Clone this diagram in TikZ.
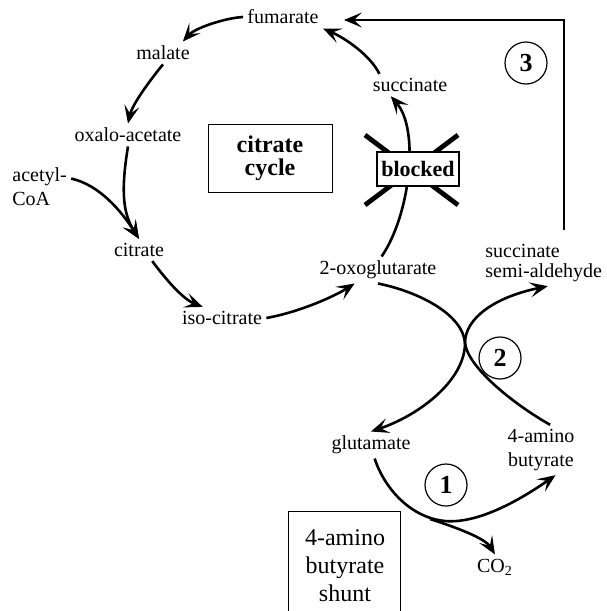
\documentclass[tikz,border=0pt]{standalone}
\usepackage{fontspec}
\setmainfont{Liberation Serif}
\usetikzlibrary{arrows.meta,positioning}

\tikzset{
  metab/.style={inner sep=2pt, font=\fontsize{10pt}{12pt}\selectfont},
  arr/.style={line width=1.3pt, -{Stealth[length=9pt,width=7.5pt,inset=4pt]}},
  enzyme/.style={draw, circle, line width=0.6pt, minimum size=21pt, inner sep=0pt,
    font=\fontsize{13pt}{13pt}\selectfont\bfseries},
  textbox/.style={draw, line width=0.5pt, align=center}
}

\begin{document}
\begin{tikzpicture}[x=0.5pt,y=-0.5pt]
\path[use as bounding box, clip] (0,0) rectangle (606,611);

% Metabolites of the cycle
\node[metab] (fum) at (283,17) {fumarate};
\node[metab] (mal) at (163,53) {malate};
\node[metab] (oxa) at (128,135) {oxalo-acetate};
\node[metab, align=left, anchor=west] (acc) at (8,187) {acetyl-\\CoA};
\node[metab] (cit) at (139,250) {citrate};
\node[metab] (iso) at (222,318) {iso-citrate};
\node[metab] (oxo) at (378,270) {2-oxoglutarate};
\node[metab] (suc) at (410,85) {succinate};

% Shunt
\node[metab, align=left, anchor=west] (ssa) at (481,263) {succinate\\[-2pt]semi-aldehyde};
\node[metab] (glu) at (371,445) {glutamate};
\node[metab, align=center] (gab) at (541,450) {4-amino\\butyrate};
\node[metab] (co2) at (495,567) {CO\textsubscript{2}};

% Titles
\node[textbox, minimum width=62pt, minimum height=34pt,
  font=\fontsize{12pt}{11.5pt}\selectfont\bfseries] (cycle) at (270,158) {citrate\\cycle};
\node[align=center, font=\fontsize{12pt}{14pt}\selectfont] (shunt) at (345,566) {4-amino\\butyrate\\shunt};
\draw[line width=0.5pt] (288,640) |- (400,511) -- (400,640);

% Enzymes
\node[enzyme] (n1) at (446,485) {1};
\node[enzyme] (n2) at (500,358) {2};
\node[enzyme] (n3) at (526,63) {3};

% Blocked step
\draw[arr] (oxo.75) .. controls (410,215) and (420,130) .. (suc.-150);
\draw[line width=2.4pt] (365,135) -- (458,205);
\draw[line width=2.4pt] (458,135) -- (365,205);
\node[draw, fill=white, line width=0.9pt, inner sep=2pt, minimum width=40pt, minimum height=17pt,
  font=\fontsize{11pt}{11pt}\selectfont\bfseries] (blocked) at (418,169) {blocked};

% Cycle arrows
\draw[arr] (fum.west) .. controls (225,18) and (195,28) .. (mal.30);
\draw[arr] (mal.south) .. controls (150,80) and (132,105) .. (oxa.north);
\draw[arr] (oxa.south) .. controls (120,195) and (124,215) .. (cit.north);
\draw[arr] (acc.15) .. controls (100,185) and (122,212) .. (cit.north);
\draw[arr] (cit.-40) .. controls (170,285) and (185,300) .. (iso.150);
\draw[arr] (iso.east) .. controls (300,312) and (335,296) .. (oxo.-150);
\draw[arr] (suc.160) .. controls (370,55) and (345,38) .. (fum.south east);

% Shunt arrows
\coordinate (kiss) at (465,343);
\coordinate (fork) at (445,521);
\coordinate (dec) at (430,519);
\coordinate (corner) at (564,20);
\draw[arr] (oxo.south) .. controls (420,292) and (463,315) .. (kiss)
  .. controls (465,380) and (420,415) .. (glu.north);
\draw[arr] (gab.70) .. controls (515,405) and (468,368) .. (kiss)
  .. controls (465,318) and (495,297) .. (ssa.-80);
\draw[arr] (glu.-75) .. controls (385,490) and (412,518) .. (fork)
  .. controls (478,524) and (520,500) .. (gab.-60);
\draw[arr] (dec) .. controls (455,527) and (485,538) .. (co2.north);
\draw[arr, line width=1pt, shorten <=5pt, shorten >=10.5pt] (ssa.north -| corner) -- (corner) -- (fum.east |- corner);
\end{tikzpicture}
\end{document}
